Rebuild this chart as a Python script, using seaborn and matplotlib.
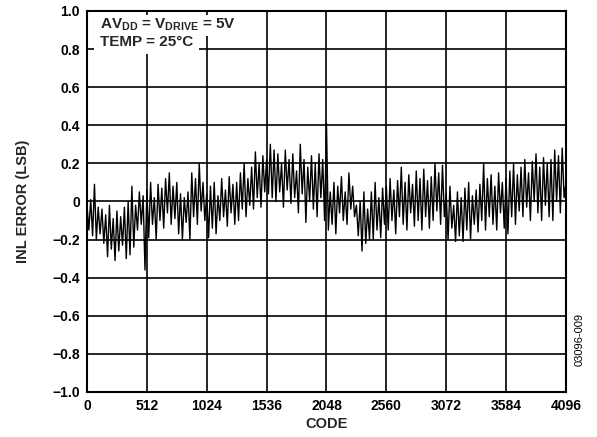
import numpy as np
import pandas as pd
import seaborn as sns
import matplotlib
matplotlib.use("Agg")
import matplotlib.pyplot as plt

# -------------------------------------------------
# Data (one value every 16 codes)
# -------------------------------------------------
codes = np.arange(0, 4097, 16)

inl_lsb = [
    -0.02, -0.15, 0.01, -0.18, 0.09, -0.20, -0.03, -0.17,
    -0.04, -0.22, -0.07, -0.29, -0.02, -0.25, -0.09, -0.31,
    -0.05, -0.26, -0.08, -0.23, -0.03, -0.30, 0.00, -0.28,
    0.08, -0.24, -0.02, -0.15, 0.05, -0.12, 0.03, -0.36,
    0.06, -0.19, 0.10, -0.12, 0.02, -0.20, 0.09, -0.10,
    0.07, -0.14, 0.12, -0.06, 0.15, -0.12, 0.08, -0.09,
    0.10, -0.17, 0.04, -0.20, 0.02, -0.11, 0.05, -0.20,
    0.15, -0.08, 0.12, -0.12, 0.20, -0.05, 0.10, -0.10,
    0.04, -0.19, 0.08, -0.14, 0.10, -0.17, 0.03, -0.10,
    0.12, -0.08, 0.06, -0.13, 0.13, -0.06, 0.09, -0.12,
    0.10, -0.10, 0.15, -0.04, 0.20, -0.08, 0.12, -0.02,
    0.18, -0.04, 0.26, 0.02, 0.20, -0.03, 0.24, 0.05,
    0.22, 0.04, 0.30, 0.02, 0.27, 0.00, 0.25, 0.05,
    0.20, -0.03, 0.27, 0.06, 0.22, -0.01, 0.25, 0.02,
    0.16, -0.06, 0.30, 0.04, 0.22, -0.11, 0.18, 0.00,
    0.24, -0.04, 0.20, -0.08, 0.25, 0.02, 0.22, -0.10,
    0.41, -0.15, 0.05, -0.12, 0.10, -0.17, 0.08, -0.06,
    0.13, -0.10, 0.05, -0.12, 0.15, -0.04, 0.08, -0.08,
    -0.02, -0.18, 0.00, -0.26, 0.05, -0.22, -0.04, -0.20,
    0.05, -0.20, 0.10, -0.15, 0.02, -0.19, 0.07, -0.12,
    0.08, -0.15, 0.12, -0.10, 0.06, -0.17, 0.11, -0.08,
    0.18, -0.12, 0.10, -0.15, 0.14, -0.06, 0.09, -0.13,
    0.16, -0.10, 0.12, -0.15, 0.17, -0.08, 0.11, -0.14,
    0.13, -0.10, 0.20, -0.05, 0.15, -0.12, 0.19, -0.08,
    0.04, -0.20, 0.08, -0.14, -0.02, -0.21, 0.05, -0.18,
    0.02, -0.21, 0.07, -0.15, 0.10, -0.20, 0.03, -0.12,
    0.06, -0.16, 0.09, -0.10, 0.20, -0.15, 0.12, -0.08,
    0.14, -0.12, 0.08, -0.15, 0.15, -0.06, 0.10, -0.14,
    0.12, -0.17, 0.16, -0.08, 0.20, -0.12, 0.14, -0.05,
    0.18, -0.08, 0.22, -0.03, 0.15, -0.10, 0.21, 0.00,
    0.25, -0.06, 0.18, -0.10, 0.23, -0.02, 0.20, -0.08,
    0.22, -0.10, 0.27, 0.00, 0.24, -0.06, 0.28, 0.02,
    0.10,
]

x_ticks = [0, 512, 1024, 1536, 2048, 2560, 3072, 3584, 4096]
y_ticks = [-1.0, -0.8, -0.6, -0.4, -0.2, 0, 0.2, 0.4, 0.6, 0.8, 1.0]
y_tick_labels = ["\u22121.0", "\u22120.8", "\u22120.6", "\u22120.4", "\u22120.2",
                 "0", "0.2", "0.4", "0.6", "0.8", "1.0"]

df = pd.DataFrame({"code": codes, "inl": inl_lsb})

# -------------------------------------------------
# Style
# -------------------------------------------------
sns.set_theme(style="white")
plt.rcParams["font.family"] = ["Liberation Sans", "DejaVu Sans"]
plt.rcParams["font.weight"] = "bold"
plt.rcParams["mathtext.fontset"] = "custom"
plt.rcParams["mathtext.rm"] = "Liberation Sans:bold"
plt.rcParams["mathtext.bf"] = "Liberation Sans:bold"

fig = plt.figure(figsize=(5.97, 4.37), dpi=100)
ax = fig.add_axes([0.1457, 0.103, 0.8023, 0.872])

sns.lineplot(data=df, x="code", y="inl", ax=ax, color="black",
             linewidth=1.0, estimator=None, sort=False)

ax.set_xlim(0, 4096)
ax.set_ylim(-1.0, 1.0)
ax.set_xticks(x_ticks)
ax.set_xticklabels([str(t) for t in x_ticks])
ax.set_yticks(y_ticks)
ax.set_yticklabels(y_tick_labels)
ax.tick_params(length=0, pad=5, labelsize=10, colors="black")

ax.grid(True, color="black", linewidth=1.2)
ax.set_axisbelow(True)
for s in ax.spines.values():
    s.set_color("black")
    s.set_linewidth(1.5)

ax.set_xlabel("CODE", fontsize=10.5, fontweight="bold", labelpad=3)
ax.set_ylabel("INL ERROR (LSB)", fontsize=10.5, fontweight="bold", labelpad=16)

# -------------------------------------------------
# Conditions text, each line on its own white patch
# -------------------------------------------------
ax.text(0.027, 0.919, "TEMP = 25\u00b0C",
        transform=ax.transAxes, ha="left", va="center", fontsize=11,
        fontweight="bold", zorder=5,
        bbox=dict(facecolor="white", edgecolor="none", pad=4))
ax.text(0.027, 0.963, "AV$_{\\mathrm{DD}}$ = V$_{\\mathrm{DRIVE}}$ = 5V",
        transform=ax.transAxes, ha="left", va="center", fontsize=11,
        fontweight="bold", zorder=6,
        bbox=dict(facecolor="white", edgecolor="none", pad=1.5))

fig.text(0.9715, 0.222, "03096-009", rotation=90, ha="center", va="center",
         fontsize=8, fontweight="normal", color="black")

fig.savefig("out.png", dpi=100)
